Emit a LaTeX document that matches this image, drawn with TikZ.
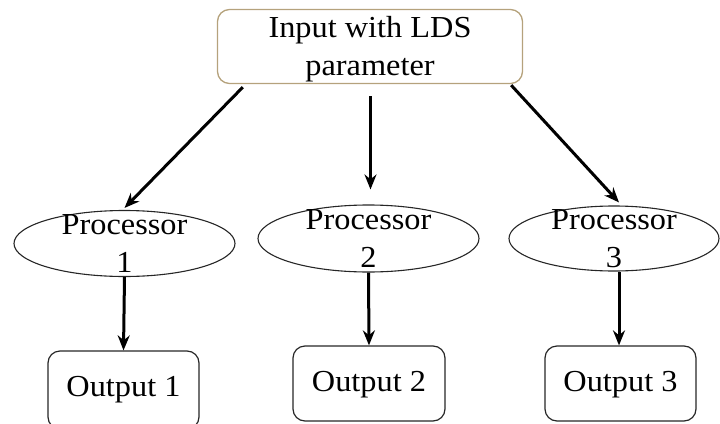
\documentclass[tikz,border=0pt]{standalone}
\usepackage{fontspec}
\setmainfont{Liberation Serif}[FakeStretch=1.06]
\usetikzlibrary{shapes.geometric,arrows.meta}
\definecolor{tanborder}{HTML}{B5A27C}
\tikzset{
  txt/.style={font=\fontsize{30.5}{38}\selectfont, align=center, inner sep=0pt},
  topbox/.style={draw=tanborder, line width=1.3pt, rounded corners=12pt, minimum width=305pt, minimum height=74pt, inner sep=0pt},
  outbox/.style={draw=black!85, line width=1.2pt, rounded corners=12pt, inner sep=0pt},
  proc/.style={draw=black!85, line width=1.1pt, ellipse, inner sep=0pt},
  arr/.style={line width=3pt, -{Stealth[length=15pt,width=12pt]}},
}
\begin{document}
\begin{tikzpicture}[x=1pt,y=-1pt]
\useasboundingbox (0,0) rectangle (720,423);
% top box
\node[topbox] (in) at (370,46.5) {};
\node[txt] (intxt) at (370,49) {Input with LDS\\parameter};
% processors
\node[proc, minimum width=221pt, minimum height=66pt] (p1) at (124.5,243.5) {};
\node[txt] (p1t) at (124.5,243.5) {Processor\\1};
\node[proc, minimum width=221pt, minimum height=67pt] (p2) at (368.5,238.5) {};
\node[txt] (p2t) at (368.5,238.5) {Processor\\2};
\node[proc, minimum width=210pt, minimum height=65pt] (p3) at (614,238.5) {};
\node[txt] (p3t) at (614,238.5) {Processor\\3};
% outputs
\node[outbox, minimum width=151pt, minimum height=78pt] (o1) at (123.5,390) {};
\node[txt] (o1t) at (123.5,390) {Output 1};
\node[outbox, minimum width=152pt, minimum height=75pt] (o2) at (369,383.5) {};
\node[txt] (o2t) at (369,385) {Output 2};
\node[outbox, minimum width=151pt, minimum height=75pt] (o3) at (620.5,383.5) {};
\node[txt] (o3t) at (620.5,385) {Output 3};
% connectors
\coordinate (s1) at ([xshift=26pt,yshift=-3pt]in.south west);
\coordinate (s3) at ([xshift=-12pt,yshift=-1pt]in.south east);
\draw[arr] (s1) -- ([yshift=2pt]p1.north);
\draw[arr, shorten <=12pt, shorten >=15pt] (in.south -| p2t.center) ++(2,0) coordinate (s2) (s2) -- (s2 |- p2.north);
\draw[arr] (s3) -- ([xshift=5pt,yshift=3pt]p3.north);
\draw[arr] (p1.south) -- (o1.north);
\draw[arr] (p2.south) -- (o2.north);
\draw[arr] ([xshift=5pt]p3.south) -- ([xshift=-1.5pt]o3.north);
\end{tikzpicture}
\end{document}
